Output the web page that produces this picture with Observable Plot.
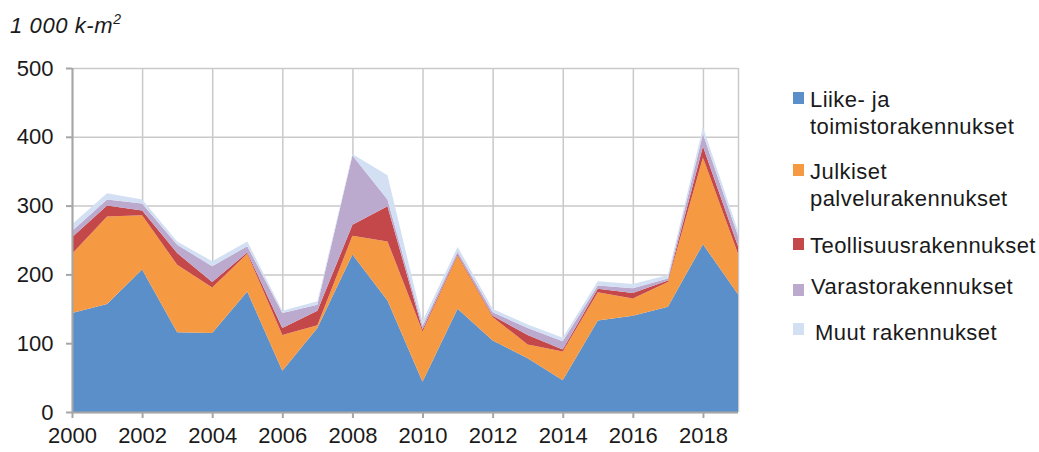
<!DOCTYPE html>
<html>
<head>
<meta charset="utf-8">
<script src="https://cdn.jsdelivr.net/npm/d3@7"></script>
<script src="https://cdn.jsdelivr.net/npm/@observablehq/plot@0.6"></script>
<style>
  html, body { margin: 0; padding: 0; background: #fff; }
  #wrap { position: relative; width: 1039px; height: 452px; font-family: "Liberation Sans", Arial, sans-serif; color: #1a1a1a; }
  #title { position: absolute; left: 10px; top: 12px; font-size: 22px; font-style: italic; letter-spacing: 0.6px; }
  #title sup { font-size: 14px; position: relative; top: -1px; }
  .leg { position: absolute; left: 793px; font-size: 22px; line-height: 27px; letter-spacing: 0.45px; }
  .leg .sw { position: absolute; left: 0; width: 11px; height: 12px; }
  .leg .tx { position: absolute; left: 17px; white-space: nowrap; }
  #chart { position: absolute; left: 0; top: 0; }
</style>
</head>
<body>
<div id="wrap">
  <div id="chart"></div>
  <div id="title">1 000 k-m<sup>2</sup></div>
  <div id="legend"></div>
</div>
<script>
const years = [2000,2001,2002,2003,2004,2005,2006,2007,2008,2009,2010,2011,2012,2013,2014,2015,2016,2017,2018,2019];
const seriesNames = ["Liike- ja toimistorakennukset","Julkiset palvelurakennukset","Teollisuusrakennukset","Varastorakennukset","Muut rakennukset"];
const liike     = [144,157,207,116,115,175, 60,122,229,162, 44,150,104, 78, 46,133,140,153,244,171];
const julkiset  = [ 86,127, 79, 98, 66, 55, 52,  4, 27, 86, 73, 77, 34, 20, 42, 41, 25, 36,126, 59];
const teollisuus= [ 24, 16,  7, 17,  8,  2, 10, 21, 16, 51,  3,  2,  2, 14,  3,  5,  8,  2, 16, 11];
const varasto   = [  9,  9, 10, 12, 23,  9, 22,  9,101, 10,  5,  4,  5, 10, 12,  5,  7,  3, 18, 15];
const muut      = [ 10,  9,  6,  5,  7,  7,  3,  5,  2, 35,  7,  7,  5,  5,  5,  6,  6,  5, 10,  7];
const colors = ["#5b8fc9","#f59a42","#c4484a","#bba9ce","#d3dff2"];
const yTicks = [0,100,200,300,400,500];
const xTicks = [2000,2002,2004,2006,2008,2010,2012,2014,2016,2018];

const seriesValues = [liike, julkiset, teollisuus, varasto, muut];
const data = [];
years.forEach((yr, i) => {
  seriesValues.forEach((vals, s) => data.push({year: yr, series: seriesNames[s], value: vals[i]}));
});

const chart = Plot.plot({
  width: 1039,
  height: 452,
  marginLeft: 72,
  marginRight: 301,
  marginTop: 68,
  marginBottom: 40,
  style: {fontFamily: "Liberation Sans, Arial, sans-serif", fontSize: "22px", color: "#1a1a1a", background: "transparent"},
  x: {domain: [2000, 2019], ticks: xTicks, tickFormat: d => String(d), label: null},
  y: {domain: [0, 500], ticks: yTicks, label: null},
  color: {domain: seriesNames, range: colors},
  marks: [
    Plot.gridX(xTicks, {stroke: "#c9c9c9", strokeOpacity: 1, strokeWidth: 1.5}),
    Plot.gridY(yTicks, {stroke: "#c9c9c9", strokeOpacity: 1, strokeWidth: 1.5}),
    Plot.ruleX([2019], {stroke: "#c9c9c9", strokeWidth: 1.5}),
    Plot.areaY(data, {x: "year", y: "value", fill: "series", z: "series", order: seriesNames}),
    Plot.ruleX([2000], {stroke: "#a6a6a6", strokeWidth: 2}),
    Plot.ruleY([0], {stroke: "#a6a6a6", strokeWidth: 2}),
    Plot.axisX({ticks: xTicks, tickFormat: d => String(d), tickSize: 6, tickPadding: 9, stroke: "#a6a6a6", strokeWidth: 2, fontSize: 22}),
    Plot.axisY({ticks: yTicks, tickSize: 6, tickPadding: 13, stroke: "#a6a6a6", strokeWidth: 2, fontSize: 22})
  ]
});
document.getElementById("chart").appendChild(chart);

// legend
const legendItems = [
  {lines: ["Liike- ja", "toimistorakennukset"], top: 86, swTop: 92, dx: 0},
  {lines: ["Julkiset", "palvelurakennukset"], top: 158, swTop: 164, dx: 0},
  {lines: ["Teollisuusrakennukset"], top: 232, swTop: 238, dx: 0},
  {lines: ["Varastorakennukset"], top: 273, swTop: 284, dx: 1},
  {lines: ["Muut rakennukset"], top: 319, swTop: 323, dx: 5}
];
const leg = document.getElementById("legend");
legendItems.forEach((it, i) => {
  const d = document.createElement("div");
  d.className = "leg";
  d.style.top = it.top + "px";
  const sw = document.createElement("div");
  sw.className = "sw";
  sw.style.background = colors[i];
  sw.style.top = (it.swTop - it.top) + "px";
  d.appendChild(sw);
  const tx = document.createElement("div");
  tx.className = "tx";
  tx.style.left = (17 + it.dx) + "px";
  tx.innerHTML = it.lines.join("<br>");
  d.appendChild(tx);
  leg.appendChild(d);
});
</script>
</body>
</html>
